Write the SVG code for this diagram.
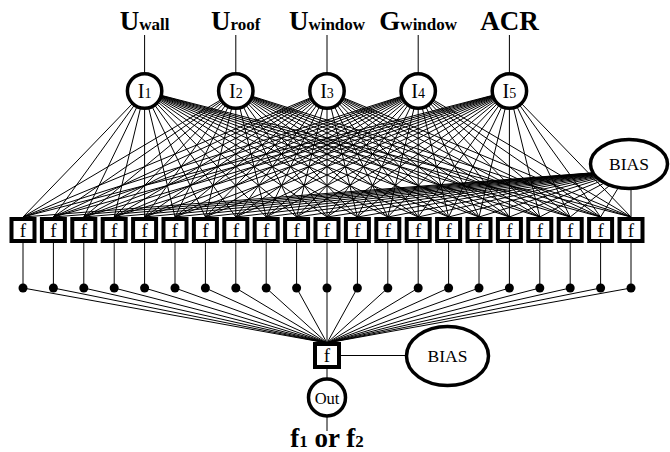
<svg xmlns="http://www.w3.org/2000/svg" width="670" height="452" viewBox="0 0 670 452">
<style>
.ln{stroke:#000;stroke-width:1;fill:none}
.box{fill:#fff;stroke:#000;stroke-width:4}
.node{fill:#fff;stroke:#000;stroke-width:3.5}
.dot{fill:#000}
text{font-family:"Liberation Serif","Times New Roman",serif;fill:#000}
.lbl{font-weight:bold;font-size:27px}
.sub{font-size:17px}
.f{font-size:19px}
.in{font-size:20px}
.ins{font-size:14px}
.bias{font-size:17.5px}
</style>
<rect width="670" height="452" fill="#fff"/>
<g id="connectors">
<path class="ln" d="M144.6 35V73M235.8 35V73M327 35V73M418.2 35V73M509.4 35V73"/>
<path class="ln" d="M144.6 91L23 217M144.6 91L53.4 217M144.6 91L83.8 217M144.6 91L114.2 217M144.6 91L144.6 217M144.6 91L175 217M144.6 91L205.4 217M144.6 91L235.8 217M144.6 91L266.2 217M144.6 91L296.6 217M144.6 91L327 217M144.6 91L357.4 217M144.6 91L387.8 217M144.6 91L418.2 217M144.6 91L448.6 217M144.6 91L479 217M144.6 91L509.4 217M144.6 91L539.8 217M144.6 91L570.2 217M144.6 91L600.6 217M144.6 91L631 217"/>
<path class="ln" d="M235.8 91L23 217M235.8 91L53.4 217M235.8 91L83.8 217M235.8 91L114.2 217M235.8 91L144.6 217M235.8 91L175 217M235.8 91L205.4 217M235.8 91L235.8 217M235.8 91L266.2 217M235.8 91L296.6 217M235.8 91L327 217M235.8 91L357.4 217M235.8 91L387.8 217M235.8 91L418.2 217M235.8 91L448.6 217M235.8 91L479 217M235.8 91L509.4 217M235.8 91L539.8 217M235.8 91L570.2 217M235.8 91L600.6 217M235.8 91L631 217"/>
<path class="ln" d="M327 91L23 217M327 91L53.4 217M327 91L83.8 217M327 91L114.2 217M327 91L144.6 217M327 91L175 217M327 91L205.4 217M327 91L235.8 217M327 91L266.2 217M327 91L296.6 217M327 91L327 217M327 91L357.4 217M327 91L387.8 217M327 91L418.2 217M327 91L448.6 217M327 91L479 217M327 91L509.4 217M327 91L539.8 217M327 91L570.2 217M327 91L600.6 217M327 91L631 217"/>
<path class="ln" d="M418.2 91L23 217M418.2 91L53.4 217M418.2 91L83.8 217M418.2 91L114.2 217M418.2 91L144.6 217M418.2 91L175 217M418.2 91L205.4 217M418.2 91L235.8 217M418.2 91L266.2 217M418.2 91L296.6 217M418.2 91L327 217M418.2 91L357.4 217M418.2 91L387.8 217M418.2 91L418.2 217M418.2 91L448.6 217M418.2 91L479 217M418.2 91L509.4 217M418.2 91L539.8 217M418.2 91L570.2 217M418.2 91L600.6 217M418.2 91L631 217"/>
<path class="ln" d="M509.4 91L23 217M509.4 91L53.4 217M509.4 91L83.8 217M509.4 91L114.2 217M509.4 91L144.6 217M509.4 91L175 217M509.4 91L205.4 217M509.4 91L235.8 217M509.4 91L266.2 217M509.4 91L296.6 217M509.4 91L327 217M509.4 91L357.4 217M509.4 91L387.8 217M509.4 91L418.2 217M509.4 91L448.6 217M509.4 91L479 217M509.4 91L509.4 217M509.4 91L539.8 217M509.4 91L570.2 217M509.4 91L600.6 217M509.4 91L631 217"/>
<path class="ln" d="M629 170L23 217M629 170L53.4 217M629 170L83.8 217M629 170L114.2 217M629 170L144.6 217M629 170L175 217M629 170L205.4 217M629 170L235.8 217M629 170L266.2 217M629 170L296.6 217M629 170L327 217M629 170L357.4 217M629 170L387.8 217M629 170L418.2 217M629 170L448.6 217M629 170L479 217M629 170L509.4 217M629 170L539.8 217M629 170L570.2 217M629 170L600.6 217M631 170L631 217"/>
<path class="ln" d="M23 243V288M53.4 243V288M83.8 243V288M114.2 243V288M144.6 243V288M175 243V288M205.4 243V288M235.8 243V288M266.2 243V288M296.6 243V288M327 243V288M357.4 243V288M387.8 243V288M418.2 243V288M448.6 243V288M479 243V288M509.4 243V288M539.8 243V288M570.2 243V288M600.6 243V288M631 243V288"/>
<path class="ln" d="M23 288L327 343M53.4 288L327 343M83.8 288L327 343M114.2 288L327 343M144.6 288L327 343M175 288L327 343M205.4 288L327 343M235.8 288L327 343M266.2 288L327 343M296.6 288L327 343M327 288L327 343M357.4 288L327 343M387.8 288L327 343M418.2 288L327 343M448.6 288L327 343M479 288L327 343M509.4 288L327 343M539.8 288L327 343M570.2 288L327 343M600.6 288L327 343M631 288L327 343"/>
<path class="ln" d="M341 355.5H407M327 368V378M327 416V431"/>
</g>
<g id="label-uwall"><text class="lbl" x="144.6" y="30" text-anchor="middle">U<tspan class="sub">wall</tspan></text></g>
<g id="label-uroof"><text class="lbl" x="235.8" y="30" text-anchor="middle">U<tspan class="sub">roof</tspan></text></g>
<g id="label-uwindow"><text class="lbl" x="327" y="30" text-anchor="middle">U<tspan class="sub">window</tspan></text></g>
<g id="label-gwindow"><text class="lbl" x="418.2" y="30" text-anchor="middle">G<tspan class="sub">window</tspan></text></g>
<g id="label-acr"><text class="lbl" x="509.4" y="30" text-anchor="middle">ACR</text></g>
<g id="I1"><circle class="node" cx="144.6" cy="91" r="17.2"/><text class="in" x="144.6" y="97.5" text-anchor="middle">I<tspan class="ins">1</tspan></text></g>
<g id="I2"><circle class="node" cx="235.8" cy="91" r="17.2"/><text class="in" x="235.8" y="97.5" text-anchor="middle">I<tspan class="ins">2</tspan></text></g>
<g id="I3"><circle class="node" cx="327" cy="91" r="17.2"/><text class="in" x="327" y="97.5" text-anchor="middle">I<tspan class="ins">3</tspan></text></g>
<g id="I4"><circle class="node" cx="418.2" cy="91" r="17.2"/><text class="in" x="418.2" y="97.5" text-anchor="middle">I<tspan class="ins">4</tspan></text></g>
<g id="I5"><circle class="node" cx="509.4" cy="91" r="17.2"/><text class="in" x="509.4" y="97.5" text-anchor="middle">I<tspan class="ins">5</tspan></text></g>
<g id="bias-hidden"><ellipse class="node" cx="629" cy="164" rx="38.5" ry="24.5"/><text class="bias" x="629" y="170" text-anchor="middle">BIAS</text></g>
<g id="H1"><rect class="box" x="11.5" y="219" width="23" height="22"/><text class="f" x="23" y="236.5" text-anchor="middle">f</text></g>
<g id="H2"><rect class="box" x="41.9" y="219" width="23" height="22"/><text class="f" x="53.4" y="236.5" text-anchor="middle">f</text></g>
<g id="H3"><rect class="box" x="72.3" y="219" width="23" height="22"/><text class="f" x="83.8" y="236.5" text-anchor="middle">f</text></g>
<g id="H4"><rect class="box" x="102.7" y="219" width="23" height="22"/><text class="f" x="114.2" y="236.5" text-anchor="middle">f</text></g>
<g id="H5"><rect class="box" x="133.1" y="219" width="23" height="22"/><text class="f" x="144.6" y="236.5" text-anchor="middle">f</text></g>
<g id="H6"><rect class="box" x="163.5" y="219" width="23" height="22"/><text class="f" x="175" y="236.5" text-anchor="middle">f</text></g>
<g id="H7"><rect class="box" x="193.9" y="219" width="23" height="22"/><text class="f" x="205.4" y="236.5" text-anchor="middle">f</text></g>
<g id="H8"><rect class="box" x="224.3" y="219" width="23" height="22"/><text class="f" x="235.8" y="236.5" text-anchor="middle">f</text></g>
<g id="H9"><rect class="box" x="254.7" y="219" width="23" height="22"/><text class="f" x="266.2" y="236.5" text-anchor="middle">f</text></g>
<g id="H10"><rect class="box" x="285.1" y="219" width="23" height="22"/><text class="f" x="296.6" y="236.5" text-anchor="middle">f</text></g>
<g id="H11"><rect class="box" x="315.5" y="219" width="23" height="22"/><text class="f" x="327" y="236.5" text-anchor="middle">f</text></g>
<g id="H12"><rect class="box" x="345.9" y="219" width="23" height="22"/><text class="f" x="357.4" y="236.5" text-anchor="middle">f</text></g>
<g id="H13"><rect class="box" x="376.3" y="219" width="23" height="22"/><text class="f" x="387.8" y="236.5" text-anchor="middle">f</text></g>
<g id="H14"><rect class="box" x="406.7" y="219" width="23" height="22"/><text class="f" x="418.2" y="236.5" text-anchor="middle">f</text></g>
<g id="H15"><rect class="box" x="437.1" y="219" width="23" height="22"/><text class="f" x="448.6" y="236.5" text-anchor="middle">f</text></g>
<g id="H16"><rect class="box" x="467.5" y="219" width="23" height="22"/><text class="f" x="479" y="236.5" text-anchor="middle">f</text></g>
<g id="H17"><rect class="box" x="497.9" y="219" width="23" height="22"/><text class="f" x="509.4" y="236.5" text-anchor="middle">f</text></g>
<g id="H18"><rect class="box" x="528.3" y="219" width="23" height="22"/><text class="f" x="539.8" y="236.5" text-anchor="middle">f</text></g>
<g id="H19"><rect class="box" x="558.7" y="219" width="23" height="22"/><text class="f" x="570.2" y="236.5" text-anchor="middle">f</text></g>
<g id="H20"><rect class="box" x="589.1" y="219" width="23" height="22"/><text class="f" x="600.6" y="236.5" text-anchor="middle">f</text></g>
<g id="H21"><rect class="box" x="619.5" y="219" width="23" height="22"/><text class="f" x="631" y="236.5" text-anchor="middle">f</text></g>
<g id="dots">
<circle class="dot" cx="23" cy="288" r="4.5"/><circle class="dot" cx="53.4" cy="288" r="4.5"/><circle class="dot" cx="83.8" cy="288" r="4.5"/><circle class="dot" cx="114.2" cy="288" r="4.5"/><circle class="dot" cx="144.6" cy="288" r="4.5"/><circle class="dot" cx="175" cy="288" r="4.5"/><circle class="dot" cx="205.4" cy="288" r="4.5"/><circle class="dot" cx="235.8" cy="288" r="4.5"/><circle class="dot" cx="266.2" cy="288" r="4.5"/><circle class="dot" cx="296.6" cy="288" r="4.5"/><circle class="dot" cx="327" cy="288" r="4.5"/><circle class="dot" cx="357.4" cy="288" r="4.5"/><circle class="dot" cx="387.8" cy="288" r="4.5"/><circle class="dot" cx="418.2" cy="288" r="4.5"/><circle class="dot" cx="448.6" cy="288" r="4.5"/><circle class="dot" cx="479" cy="288" r="4.5"/><circle class="dot" cx="509.4" cy="288" r="4.5"/><circle class="dot" cx="539.8" cy="288" r="4.5"/><circle class="dot" cx="570.2" cy="288" r="4.5"/><circle class="dot" cx="600.6" cy="288" r="4.5"/><circle class="dot" cx="631" cy="288" r="4.5"/>
</g>
<g id="output-f"><rect class="box" x="315" y="344" width="24" height="23"/><text class="f" x="327" y="362" text-anchor="middle">f</text></g>
<g id="bias-output"><ellipse class="node" cx="447.5" cy="356" rx="41" ry="29.5"/><text class="bias" x="447.5" y="362" text-anchor="middle">BIAS</text></g>
<g id="out"><circle class="node" cx="327" cy="397.5" r="18.5"/><text x="327" y="403.5" font-size="16.5" text-anchor="middle">Out</text></g>
<g id="label-output"><text class="lbl" x="327" y="447" text-anchor="middle" font-size="28">f<tspan class="sub">1</tspan> or f<tspan class="sub">2</tspan></text></g>
</svg>
